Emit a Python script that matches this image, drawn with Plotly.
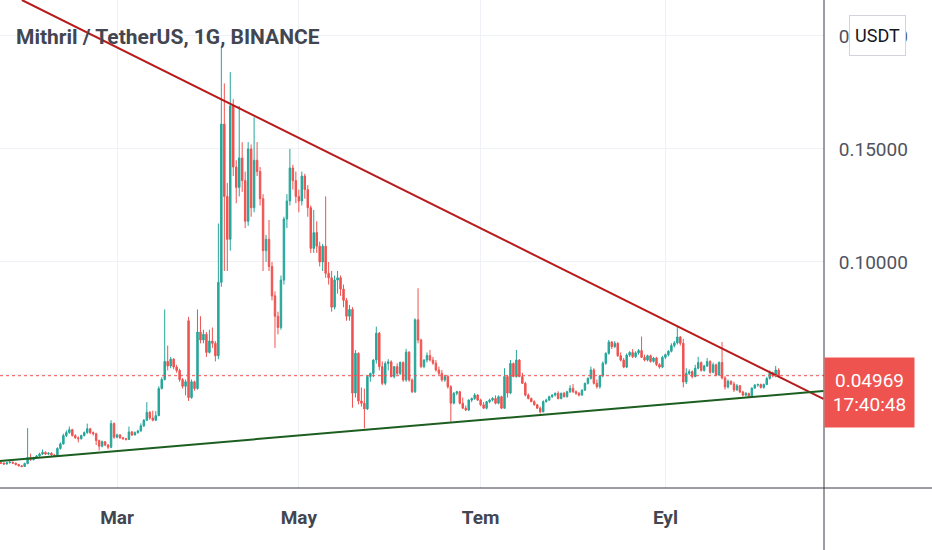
import pandas as pd
import plotly.graph_objects as go

# daily candles, MITH/USDT, starting 21 Jan 2021
start_date = "2021-01-21"

opens = [
    0.0112, 0.0110, 0.0106, 0.0112, 0.0114, 0.0110, 0.0104, 0.0098, 0.0095, 0.0108,
    0.0135, 0.0125, 0.0135, 0.0142, 0.0150, 0.0158, 0.0150, 0.0154, 0.0146, 0.0142,
    0.0175, 0.0195, 0.0232, 0.0245, 0.0258, 0.0232, 0.0222, 0.0218, 0.0232, 0.0245,
    0.0262, 0.0245, 0.0240, 0.0210, 0.0185, 0.0205, 0.0190, 0.0180, 0.0285, 0.0225,
    0.0235, 0.0222, 0.0218, 0.0215, 0.0248, 0.0235, 0.0245, 0.0252, 0.0275, 0.0300,
    0.0335, 0.0310, 0.0300, 0.0320, 0.0440, 0.0480, 0.0560, 0.0540, 0.0570, 0.0535,
    0.0520, 0.0480, 0.0450, 0.0740, 0.0400, 0.0470, 0.0440, 0.0690, 0.0655, 0.0680,
    0.0600, 0.0650, 0.0640, 0.0585, 0.0910, 0.1610, 0.1290, 0.1100, 0.1690, 0.1420,
    0.1330, 0.1460, 0.1360, 0.1180, 0.1500, 0.1240, 0.1450, 0.1400, 0.1280, 0.1050,
    0.1100, 0.0980, 0.0850, 0.0760, 0.0710, 0.0920, 0.1190, 0.1270, 0.1416, 0.1360,
    0.1290, 0.1270, 0.1380, 0.1320, 0.1240, 0.1060, 0.1130, 0.1070, 0.1000, 0.1070,
    0.0950, 0.0930, 0.0800, 0.0920, 0.0930, 0.0880, 0.0830, 0.0760, 0.0790, 0.0420,
    0.0596, 0.0385, 0.0375, 0.0350, 0.0493, 0.0507, 0.0566, 0.0685, 0.0537, 0.0463,
    0.0551, 0.0558, 0.0493, 0.0537, 0.0507, 0.0555, 0.0478, 0.0601, 0.0478, 0.0426,
    0.0744, 0.0655, 0.0537, 0.0566, 0.0586, 0.0566, 0.0552, 0.0522, 0.0507, 0.0478,
    0.0493, 0.0448, 0.0375, 0.0419, 0.0426, 0.0375, 0.0353, 0.0345, 0.0389, 0.0396,
    0.0411, 0.0389, 0.0368, 0.0353, 0.0382, 0.0389, 0.0396, 0.0375, 0.0404, 0.0353,
    0.0493, 0.0420, 0.0551, 0.0493, 0.0566, 0.0493, 0.0463, 0.0411, 0.0396, 0.0382,
    0.0368, 0.0353, 0.0337, 0.0382, 0.0389, 0.0404, 0.0411, 0.0419, 0.0396, 0.0419,
    0.0404, 0.0426, 0.0441, 0.0426, 0.0419, 0.0411, 0.0433, 0.0463, 0.0485, 0.0522,
    0.0463, 0.0448, 0.0496, 0.0552, 0.0596, 0.0646, 0.0625, 0.0640, 0.0585, 0.0566,
    0.0535, 0.0588, 0.0600, 0.0581, 0.0598, 0.0608, 0.0578, 0.0566, 0.0585, 0.0560,
    0.0575, 0.0546, 0.0535, 0.0578, 0.0590, 0.0605, 0.0630, 0.0642, 0.0668, 0.0640,
    0.0469, 0.0507, 0.0515, 0.0493, 0.0530, 0.0555, 0.0520, 0.0540, 0.0560, 0.0512,
    0.0545, 0.0500, 0.0555, 0.0487, 0.0447, 0.0472, 0.0460, 0.0434, 0.0452, 0.0425,
    0.0411, 0.0418, 0.0403, 0.0442, 0.0455, 0.0458, 0.0445, 0.0458, 0.0485, 0.0510,
    0.0495, 0.0522,
]

highs = [
    0.0118, 0.0114, 0.0116, 0.0120, 0.0117, 0.0112, 0.0107, 0.0102, 0.0112, 0.0265,
    0.0152, 0.0138, 0.0146, 0.0156, 0.0170, 0.0162, 0.0158, 0.0158, 0.0150, 0.0180,
    0.0202, 0.0240, 0.0255, 0.0272, 0.0262, 0.0238, 0.0228, 0.0236, 0.0250, 0.0285,
    0.0266, 0.0250, 0.0244, 0.0214, 0.0210, 0.0208, 0.0194, 0.0300, 0.0290, 0.0240,
    0.0238, 0.0226, 0.0222, 0.0272, 0.0252, 0.0250, 0.0258, 0.0286, 0.0305, 0.0380,
    0.0340, 0.0342, 0.0340, 0.0450, 0.0490, 0.0790, 0.0630, 0.0580, 0.0575, 0.0545,
    0.0528, 0.0486, 0.0480, 0.0757, 0.0480, 0.0475, 0.0790, 0.0760, 0.0700, 0.0690,
    0.0700, 0.0710, 0.0650, 0.1170, 0.1950, 0.1790, 0.1350, 0.1840, 0.1720, 0.1450,
    0.1690, 0.1530, 0.1400, 0.1530, 0.1520, 0.1640, 0.1530, 0.1420, 0.1300, 0.1120,
    0.1186, 0.1000, 0.0870, 0.0780, 0.0940, 0.1200, 0.1300, 0.1500, 0.1430, 0.1400,
    0.1320, 0.1400, 0.1390, 0.1340, 0.1250, 0.1230, 0.1180, 0.1090, 0.1080, 0.1290,
    0.1000, 0.0960, 0.0940, 0.0960, 0.0940, 0.0900, 0.0840, 0.0810, 0.0800, 0.0610,
    0.0600, 0.0445, 0.0440, 0.0500, 0.0510, 0.0570, 0.0714, 0.0690, 0.0560, 0.0560,
    0.0570, 0.0565, 0.0540, 0.0552, 0.0560, 0.0560, 0.0616, 0.0605, 0.0485, 0.0750,
    0.0884, 0.0660, 0.0570, 0.0600, 0.0611, 0.0580, 0.0566, 0.0537, 0.0522, 0.0500,
    0.0500, 0.0455, 0.0425, 0.0430, 0.0430, 0.0400, 0.0365, 0.0392, 0.0400, 0.0420,
    0.0415, 0.0395, 0.0380, 0.0385, 0.0395, 0.0402, 0.0410, 0.0410, 0.0408, 0.0530,
    0.0500, 0.0566, 0.0555, 0.0611, 0.0570, 0.0510, 0.0470, 0.0418, 0.0400, 0.0388,
    0.0372, 0.0360, 0.0388, 0.0395, 0.0408, 0.0415, 0.0422, 0.0428, 0.0422, 0.0425,
    0.0430, 0.0455, 0.0460, 0.0432, 0.0424, 0.0436, 0.0466, 0.0490, 0.0537, 0.0530,
    0.0480, 0.0500, 0.0560, 0.0600, 0.0655, 0.0650, 0.0650, 0.0645, 0.0600, 0.0575,
    0.0595, 0.0605, 0.0615, 0.0605, 0.0615, 0.0670, 0.0590, 0.0590, 0.0590, 0.0580,
    0.0580, 0.0552, 0.0585, 0.0595, 0.0610, 0.0640, 0.0650, 0.0712, 0.0672, 0.0660,
    0.0530, 0.0525, 0.0520, 0.0545, 0.0580, 0.0560, 0.0545, 0.0575, 0.0565, 0.0555,
    0.0550, 0.0560, 0.0646, 0.0495, 0.0480, 0.0476, 0.0470, 0.0460, 0.0456, 0.0430,
    0.0425, 0.0422, 0.0445, 0.0460, 0.0462, 0.0462, 0.0462, 0.0492, 0.0520, 0.0515,
    0.0540, 0.0530,
]

lows = [
    0.0106, 0.0102, 0.0104, 0.0108, 0.0106, 0.0100, 0.0095, 0.0092, 0.0093, 0.0105,
    0.0120, 0.0122, 0.0130, 0.0138, 0.0146, 0.0146, 0.0145, 0.0142, 0.0138, 0.0140,
    0.0170, 0.0192, 0.0225, 0.0240, 0.0228, 0.0218, 0.0202, 0.0214, 0.0228, 0.0240,
    0.0238, 0.0232, 0.0190, 0.0166, 0.0180, 0.0185, 0.0172, 0.0176, 0.0218, 0.0220,
    0.0218, 0.0214, 0.0210, 0.0213, 0.0230, 0.0232, 0.0240, 0.0250, 0.0270, 0.0296,
    0.0302, 0.0295, 0.0296, 0.0318, 0.0436, 0.0476, 0.0520, 0.0530, 0.0525, 0.0510,
    0.0470, 0.0440, 0.0410, 0.0385, 0.0395, 0.0430, 0.0435, 0.0640, 0.0640, 0.0580,
    0.0595, 0.0620, 0.0560, 0.0570, 0.0890, 0.0960, 0.0960, 0.1050, 0.1380, 0.1260,
    0.1290, 0.1310, 0.1150, 0.1160, 0.1200, 0.1220, 0.1380, 0.1250, 0.0960, 0.1000,
    0.0960, 0.0830, 0.0620, 0.0680, 0.0700, 0.0900, 0.1150, 0.1250, 0.1320, 0.1260,
    0.1220, 0.1250, 0.1280, 0.1200, 0.1040, 0.1040, 0.1040, 0.0980, 0.0960, 0.0930,
    0.0900, 0.0780, 0.0790, 0.0860, 0.0850, 0.0800, 0.0740, 0.0740, 0.0355, 0.0400,
    0.0370, 0.0360, 0.0264, 0.0345, 0.0470, 0.0490, 0.0550, 0.0520, 0.0455, 0.0455,
    0.0520, 0.0490, 0.0485, 0.0500, 0.0500, 0.0470, 0.0470, 0.0470, 0.0420, 0.0420,
    0.0640, 0.0530, 0.0530, 0.0555, 0.0560, 0.0545, 0.0515, 0.0500, 0.0470, 0.0470,
    0.0440, 0.0294, 0.0370, 0.0410, 0.0370, 0.0350, 0.0340, 0.0340, 0.0380, 0.0390,
    0.0385, 0.0362, 0.0350, 0.0348, 0.0375, 0.0383, 0.0370, 0.0370, 0.0350, 0.0350,
    0.0400, 0.0415, 0.0490, 0.0488, 0.0490, 0.0460, 0.0405, 0.0392, 0.0380, 0.0365,
    0.0350, 0.0330, 0.0335, 0.0378, 0.0385, 0.0398, 0.0405, 0.0392, 0.0392, 0.0400,
    0.0400, 0.0420, 0.0420, 0.0412, 0.0405, 0.0408, 0.0430, 0.0458, 0.0480, 0.0458,
    0.0440, 0.0440, 0.0490, 0.0545, 0.0590, 0.0615, 0.0620, 0.0580, 0.0560, 0.0530,
    0.0530, 0.0580, 0.0575, 0.0575, 0.0590, 0.0575, 0.0560, 0.0560, 0.0555, 0.0555,
    0.0540, 0.0528, 0.0530, 0.0570, 0.0582, 0.0600, 0.0622, 0.0635, 0.0630, 0.0445,
    0.0460, 0.0500, 0.0485, 0.0490, 0.0525, 0.0515, 0.0515, 0.0535, 0.0505, 0.0508,
    0.0495, 0.0495, 0.0480, 0.0435, 0.0440, 0.0455, 0.0425, 0.0430, 0.0420, 0.0405,
    0.0405, 0.0398, 0.0400, 0.0438, 0.0448, 0.0440, 0.0440, 0.0455, 0.0480, 0.0490,
    0.0490, 0.0490,
]

closes = [
    0.0110, 0.0106, 0.0112, 0.0114, 0.0110, 0.0104, 0.0098, 0.0095, 0.0108, 0.0135,
    0.0125, 0.0135, 0.0142, 0.0150, 0.0158, 0.0150, 0.0154, 0.0146, 0.0142, 0.0175,
    0.0195, 0.0232, 0.0245, 0.0258, 0.0232, 0.0222, 0.0218, 0.0232, 0.0245, 0.0262,
    0.0245, 0.0240, 0.0210, 0.0185, 0.0205, 0.0190, 0.0180, 0.0285, 0.0225, 0.0235,
    0.0222, 0.0218, 0.0215, 0.0248, 0.0235, 0.0245, 0.0252, 0.0275, 0.0300, 0.0335,
    0.0310, 0.0300, 0.0320, 0.0440, 0.0480, 0.0560, 0.0540, 0.0570, 0.0535, 0.0520,
    0.0480, 0.0450, 0.0470, 0.0400, 0.0470, 0.0440, 0.0690, 0.0655, 0.0680, 0.0600,
    0.0650, 0.0640, 0.0585, 0.0910, 0.1610, 0.1290, 0.1100, 0.1690, 0.1420, 0.1330,
    0.1460, 0.1360, 0.1180, 0.1500, 0.1240, 0.1450, 0.1400, 0.1280, 0.1050, 0.1100,
    0.0980, 0.0850, 0.0760, 0.0710, 0.0920, 0.1190, 0.1270, 0.1416, 0.1360, 0.1290,
    0.1270, 0.1380, 0.1320, 0.1240, 0.1060, 0.1130, 0.1070, 0.1000, 0.1070, 0.0950,
    0.0930, 0.0800, 0.0920, 0.0930, 0.0880, 0.0830, 0.0760, 0.0790, 0.0420, 0.0596,
    0.0385, 0.0375, 0.0350, 0.0493, 0.0507, 0.0566, 0.0685, 0.0537, 0.0463, 0.0551,
    0.0558, 0.0493, 0.0537, 0.0507, 0.0555, 0.0478, 0.0601, 0.0478, 0.0426, 0.0744,
    0.0655, 0.0537, 0.0566, 0.0586, 0.0566, 0.0552, 0.0522, 0.0507, 0.0478, 0.0493,
    0.0448, 0.0375, 0.0419, 0.0426, 0.0375, 0.0353, 0.0345, 0.0389, 0.0396, 0.0411,
    0.0389, 0.0368, 0.0353, 0.0382, 0.0389, 0.0396, 0.0375, 0.0404, 0.0353, 0.0493,
    0.0420, 0.0551, 0.0493, 0.0566, 0.0493, 0.0463, 0.0411, 0.0396, 0.0382, 0.0368,
    0.0353, 0.0337, 0.0382, 0.0389, 0.0404, 0.0411, 0.0419, 0.0396, 0.0419, 0.0404,
    0.0426, 0.0441, 0.0426, 0.0419, 0.0411, 0.0433, 0.0463, 0.0485, 0.0522, 0.0463,
    0.0448, 0.0496, 0.0552, 0.0596, 0.0646, 0.0625, 0.0640, 0.0585, 0.0566, 0.0535,
    0.0588, 0.0600, 0.0581, 0.0598, 0.0608, 0.0578, 0.0566, 0.0585, 0.0560, 0.0575,
    0.0546, 0.0535, 0.0578, 0.0590, 0.0605, 0.0630, 0.0642, 0.0668, 0.0640, 0.0469,
    0.0507, 0.0515, 0.0493, 0.0530, 0.0555, 0.0520, 0.0540, 0.0560, 0.0512, 0.0545,
    0.0500, 0.0555, 0.0487, 0.0447, 0.0472, 0.0460, 0.0434, 0.0452, 0.0425, 0.0411,
    0.0418, 0.0403, 0.0442, 0.0455, 0.0458, 0.0445, 0.0458, 0.0485, 0.0510, 0.0495,
    0.0522, 0.04969,
]

# hand-drawn trend lines (two anchor points each)
resistance_dates = ["2021-01-28 02:00", "2021-10-24 00:00"]
resistance_values = [0.2159, 0.0394]
support_dates = ["2021-01-20 18:00", "2021-10-24 00:00"]
support_values = [0.0120, 0.0429]

month_ticks = ["2021-03-01", "2021-05-01", "2021-07-01", "2021-09-01"]
month_labels = ["Mar", "May", "Tem", "Eyl"]
price_ticks = [0.05, 0.10, 0.15, 0.20]
countdown = "17:40:48"

UP = "#26a69a"
DOWN = "#ef5350"
FONT = "Roboto, sans-serif"
GRID = "#eef1f6"

dates = pd.date_range(start_date, periods=len(closes), freq="D")

fig = go.Figure()
fig.add_trace(go.Candlestick(
    x=dates, open=opens, high=highs, low=lows, close=closes,
    increasing=dict(line=dict(color=UP, width=1), fillcolor=UP),
    decreasing=dict(line=dict(color=DOWN, width=1), fillcolor=DOWN),
    whiskerwidth=0, hoverinfo="skip",
))
fig.add_trace(go.Scatter(x=resistance_dates, y=resistance_values, mode="lines",
                         line=dict(color="#b71c1c", width=2), hoverinfo="skip"))
fig.add_trace(go.Scatter(x=support_dates, y=support_values, mode="lines",
                         line=dict(color="#1b5e20", width=2), hoverinfo="skip"))

last = closes[-1]

fig.update_layout(
    width=932, height=550,
    margin=dict(l=0, r=108, t=0, b=62),
    paper_bgcolor="white", plot_bgcolor="white",
    showlegend=False,
    xaxis=dict(
        type="date",
        range=["2021-01-20 17:40", "2021-10-24 05:00"],
        rangeslider=dict(visible=False),
        tickvals=month_ticks, ticktext=month_labels,
        showgrid=True, gridcolor=GRID, gridwidth=1,
        zeroline=False, showline=False,
        ticks="outside", ticklen=12, tickcolor="rgba(0,0,0,0)",
        tickfont=dict(family=FONT, size=19, color="#434651", weight="bold"),
    ),
    yaxis=dict(
        side="right",
        range=[0, 0.2159],
        tickvals=price_ticks, tickformat=".5f",
        showgrid=True, gridcolor=GRID, gridwidth=1,
        zeroline=False, showline=False,
        ticks="outside", ticklen=10, tickcolor="rgba(0,0,0,0)",
        tickfont=dict(family=FONT, size=19, color="#50535e"),
    ),
    shapes=[
        # last price dotted line
        dict(type="line", xref="paper", x0=0, x1=1, yref="y", y0=last, y1=last,
             line=dict(color=DOWN, width=1, dash="dot")),
        # time scale border
        dict(type="line", xref="paper", x0=0, x1=932 / 824, yref="paper", y0=0, y1=0,
             line=dict(color="#363a45", width=1)),
        # price scale border
        dict(type="line", xref="paper", x0=1, x1=1, yref="paper", y0=-62 / 488, y1=1,
             line=dict(color="#363a45", width=1)),
    ],
    annotations=[
        dict(text="Mithril / TetherUS, 1G, BINANCE", xref="paper", yref="paper",
             x=14 / 824, y=1 - 37 / 488, xanchor="left", yanchor="middle",
             showarrow=False,
             font=dict(family=FONT, size=21, color="#434651", weight="bold")),
        dict(text="USDT", xref="paper", yref="paper",
             x=849 / 824, y=1 - 35 / 488, xanchor="left", yanchor="middle",
             showarrow=False, bgcolor="white", bordercolor="#d1d4dc",
             borderwidth=1, borderpad=5, width=45, height=29,
             font=dict(family=FONT, size=18, color="#131722")),
        dict(text=f"{last:.5f}<br>{countdown}", xref="paper", yref="y",
             x=1, y=last, xanchor="left", yanchor="top", yshift=19,
             showarrow=False, bgcolor=DOWN, borderpad=4, width=81, height=61,
             align="center", valign="middle",
             font=dict(family=FONT, size=19, color="white")),
    ],
)

# drop the default 8px page margin so the figure sits at the window corner
fig.write_html("out.html", config={"displayModeBar": False},
               post_script="document.body.style.margin='0px';")
